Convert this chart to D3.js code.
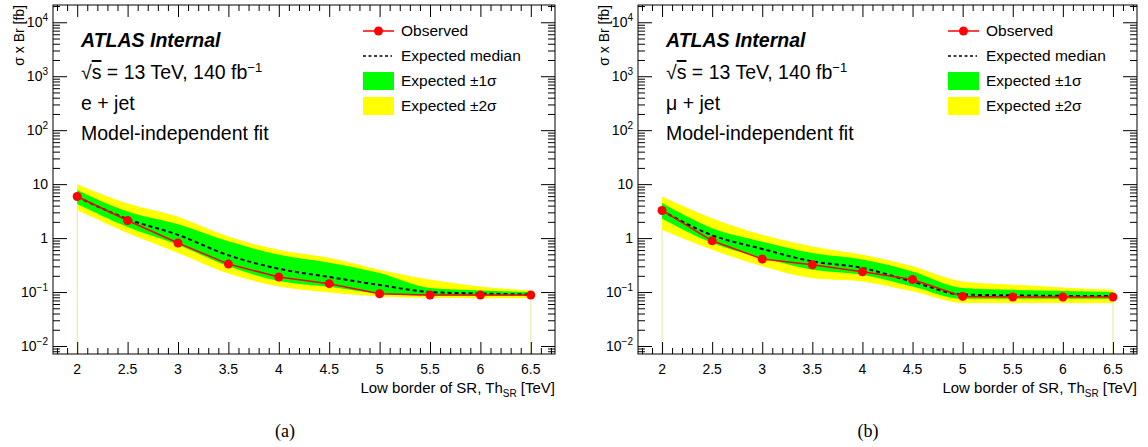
<!DOCTYPE html>
<html>
  <head>
    <script src="https://d3js.org/d3.v7.min.js"></script>
    <style>
      body { margin: 0; background: #fff; }
      text { font-family: "Liberation Sans", Arial, sans-serif; fill: #000; }
      .cap { font-family: "Liberation Serif", "Times New Roman", serif; }
    </style>
  </head>
  <body>
    <div id="chart"></div>
    <script>
      // thresholds (low border of SR, TeV)
      const thresholds = [2, 2.5, 3, 3.5, 4, 4.5, 5, 5.5, 6, 6.5];

      // e + jet
      const obsE = [5.9, 2.12, 0.81, 0.33, 0.19, 0.143, 0.093, 0.088, 0.088, 0.088];
      const expE = [5.8, 2.25, 1.15, 0.48, 0.27, 0.19, 0.135, 0.1, 0.094, 0.09];
      const up1E = [7.8, 3.1, 1.8, 0.87, 0.49, 0.35, 0.225, 0.119, 0.107, 0.1];
      const dn1E = [4.3, 1.6, 0.75, 0.3, 0.16, 0.125, 0.093, 0.085, 0.085, 0.085];
      const up2E = [10, 4.4, 2.5, 1.07, 0.61, 0.43, 0.26, 0.17, 0.127, 0.107];
      const dn2E = [3.3, 1.24, 0.53, 0.22, 0.127, 0.098, 0.083, 0.078, 0.077, 0.077];

      // mu + jet
      const obsM = [3.25, 0.89, 0.41, 0.32, 0.238, 0.171, 0.083, 0.081, 0.081, 0.081];
      const expM = [3.2, 1.13, 0.63, 0.37, 0.28, 0.155, 0.09, 0.087, 0.085, 0.084];
      const up1M = [4.45, 1.53, 0.86, 0.53, 0.4, 0.24, 0.119, 0.11, 0.105, 0.1];
      const dn1M = [2.28, 0.81, 0.43, 0.26, 0.21, 0.127, 0.075, 0.075, 0.075, 0.075];
      const up2M = [5.9, 2.34, 1.15, 0.7, 0.49, 0.3, 0.157, 0.137, 0.122, 0.11];
      const dn2M = [1.43, 0.61, 0.3, 0.18, 0.157, 0.103, 0.063, 0.063, 0.063, 0.063];

      const xTicks = [2, 2.5, 3, 3.5, 4, 4.5, 5, 5.5, 6, 6.5];
      const yDecades = [-2, -1, 0, 1, 2, 3, 4];

      const panels = [
        { left: 53, right: 555, chan: "e + jet", obs: obsE, exp: expE, up1: up1E, dn1: dn1E, up2: up2E, dn2: dn2E, cap: "(a)", capX: 285 },
        { left: 638, right: 1137, chan: "\u03bc + jet", obs: obsM, exp: expM, up1: up1M, dn1: dn1M, up2: up2M, dn2: dn2M, cap: "(b)", capX: 868 },
      ];
      const frameTop = 5, frameBot = 354;

      const svg = d3.select("#chart").append("svg").attr("width", 1148).attr("height", 447);

      panels.forEach((p) => {
        const x = d3.scaleLinear().domain([1.76, 6.74]).range([p.left, p.right]);
        const y = d3.scaleLog().domain([0.00711, 20900]).range([frameBot, frameTop]);
        const g = svg.append("g");
        const rows = thresholds.map((t, i) => ({ t, obs: p.obs[i], exp: p.exp[i], up1: p.up1[i], dn1: p.dn1[i], up2: p.up2[i], dn2: p.dn2[i] }));

        // thin fill artifacts at the ends
        [0, rows.length - 1].forEach((i) => {
          const r = rows[i];
          g.append("line")
            .attr("x1", x(r.t)).attr("x2", x(r.t))
            .attr("y1", y(i === 0 ? r.dn2 : r.obs)).attr("y2", frameBot)
            .attr("stroke", "#dcef9a").attr("stroke-width", 1);
        });

        const band = (lo, hi) => d3.area().x((d) => x(d.t)).y0((d) => y(d[lo])).y1((d) => y(d[hi])).curve(d3.curveMonotoneX);
        g.append("path").datum(rows).attr("d", band("dn2", "up2")).attr("fill", "#ffff00");
        g.append("path").datum(rows).attr("d", band("dn1", "up1")).attr("fill", "#00ff00");

        g.append("path").datum(rows)
          .attr("d", d3.line().x((d) => x(d.t)).y((d) => y(d.exp)).curve(d3.curveMonotoneX))
          .attr("fill", "none").attr("stroke", "#000").attr("stroke-width", 2).attr("stroke-dasharray", "4,3");

        g.append("path").datum(rows)
          .attr("d", d3.line().x((d) => x(d.t)).y((d) => y(d.obs)))
          .attr("fill", "none").attr("stroke", "#ff0000").attr("stroke-width", 1.5);
        g.selectAll("circle.obs").data(rows).enter().append("circle")
          .attr("cx", (d) => x(d.t)).attr("cy", (d) => y(d.obs)).attr("r", 4.5).attr("fill", "#ff0000");

        // axes, ticks pointing inwards on all four sides
        const xMinor = d3.range(18, 68).map((v) => v / 10).filter((v) => Math.abs(v * 2 - Math.round(v * 2)) > 1e-6);
        const yMinor = [];
        for (let e = -3; e <= 4; e++) for (let m = 2; m <= 9; m++) {
          const v = m * Math.pow(10, e);
          if (v > 0.00711 && v < 20900) yMinor.push(v);
        }
        const yMajor = yDecades.map((e) => Math.pow(10, e));
        const strip = (sel) => { sel.select(".domain").remove(); sel.selectAll("line").attr("stroke", "#000"); };

        g.append("g").attr("transform", `translate(0,${frameBot})`).call(d3.axisBottom(x).tickValues(xTicks).tickSize(-12).tickFormat("")).call(strip);
        g.append("g").attr("transform", `translate(0,${frameBot})`).call(d3.axisBottom(x).tickValues(xMinor).tickSize(-6).tickFormat("")).call(strip);
        g.append("g").attr("transform", `translate(0,${frameTop})`).call(d3.axisTop(x).tickValues(xTicks).tickSize(-12).tickFormat("")).call(strip);
        g.append("g").attr("transform", `translate(0,${frameTop})`).call(d3.axisTop(x).tickValues(xMinor).tickSize(-6).tickFormat("")).call(strip);
        g.append("g").attr("transform", `translate(${p.left},0)`).call(d3.axisLeft(y).tickValues(yMajor).tickSize(-14).tickFormat("")).call(strip);
        g.append("g").attr("transform", `translate(${p.left},0)`).call(d3.axisLeft(y).tickValues(yMinor).tickSize(-7).tickFormat("")).call(strip);
        g.append("g").attr("transform", `translate(${p.right},0)`).call(d3.axisRight(y).tickValues(yMajor).tickSize(-14).tickFormat("")).call(strip);
        g.append("g").attr("transform", `translate(${p.right},0)`).call(d3.axisRight(y).tickValues(yMinor).tickSize(-7).tickFormat("")).call(strip);

        g.append("rect").attr("x", p.left).attr("y", frameTop).attr("width", p.right - p.left).attr("height", frameBot - frameTop)
          .attr("fill", "none").attr("stroke", "#000").attr("stroke-width", 1);

        // tick labels
        g.selectAll("text.xl").data(xTicks).enter().append("text")
          .attr("x", (d) => x(d)).attr("y", frameBot + 20).attr("text-anchor", "middle").style("font-size", "14px")
          .text((d) => d);
        yDecades.forEach((e) => {
          const t = g.append("text").attr("x", p.left - 5).attr("y", y(Math.pow(10, e)) + 5)
            .attr("text-anchor", "end").style("font-size", "14px");
          if (e === 0) t.text("1");
          else if (e === 1) t.text("10");
          else {
            t.append("tspan").text("10");
            t.append("tspan").attr("dy", -6).style("font-size", "10px").text(e < 0 ? "\u2212" + -e : e);
          }
        });

        // axis titles
        const xt = g.append("text").attr("x", p.right).attr("y", frameBot + 39).attr("text-anchor", "end").style("font-size", "15px");
        xt.append("tspan").text("Low border of SR, Th");
        xt.append("tspan").attr("dy", 4).style("font-size", "10px").text("SR");
        xt.append("tspan").attr("dy", -4).text(" [TeV]");
        g.append("text").attr("transform", `translate(${p.left - 29},${frameTop}) rotate(-90)`)
          .attr("text-anchor", "end").style("font-size", "14px").text("\u03c3 x Br [fb]");

        // labels
        const tx = p.left + 28;
        g.append("text").attr("x", tx).attr("y", 47).style("font-size", "19.5px").style("font-weight", "bold").style("font-style", "italic").text("ATLAS Internal");
        const rs = g.append("text").attr("x", tx).attr("y", 79).style("font-size", "19.5px");
        rs.append("tspan").text("\u221a");
        rs.append("tspan").style("text-decoration", "overline").text("s");
        rs.append("tspan").text(" = 13 TeV, 140 fb");
        rs.append("tspan").attr("dy", -7).style("font-size", "13px").text("\u22121");
        g.append("text").attr("x", tx).attr("y", 110).style("font-size", "19.5px").text(p.chan);
        g.append("text").attr("x", tx).attr("y", 140).style("font-size", "19.5px").text("Model-independent fit");

        // legend
        const lx = p.left + 310;
        const ltx = lx + 38;
        g.append("line").attr("x1", lx).attr("x2", lx + 31).attr("y1", 31).attr("y2", 31).attr("stroke", "#ff0000").attr("stroke-width", 1.5);
        g.append("circle").attr("cx", lx + 15.5).attr("cy", 31).attr("r", 4.5).attr("fill", "#ff0000");
        g.append("text").attr("x", ltx).attr("y", 36).style("font-size", "15.5px").text("Observed");
        g.append("line").attr("x1", lx).attr("x2", lx + 29).attr("y1", 56).attr("y2", 56).attr("stroke", "#000").attr("stroke-width", 1.5).attr("stroke-dasharray", "3,2.5");
        g.append("text").attr("x", ltx).attr("y", 61).style("font-size", "15.5px").text("Expected median");
        g.append("rect").attr("x", lx).attr("y", 72).attr("width", 31).attr("height", 18).attr("fill", "#00ff00");
        g.append("text").attr("x", ltx).attr("y", 86).style("font-size", "15.5px").text("Expected \u00b11\u03c3");
        g.append("rect").attr("x", lx).attr("y", 97).attr("width", 31).attr("height", 18).attr("fill", "#ffff00");
        g.append("text").attr("x", ltx).attr("y", 111).style("font-size", "15.5px").text("Expected \u00b12\u03c3");

        // caption
        g.append("text").attr("class", "cap").attr("x", p.capX).attr("y", 437)
          .attr("text-anchor", "middle").style("font-size", "18px").text(p.cap);
      });
    </script>
  </body>
</html>
